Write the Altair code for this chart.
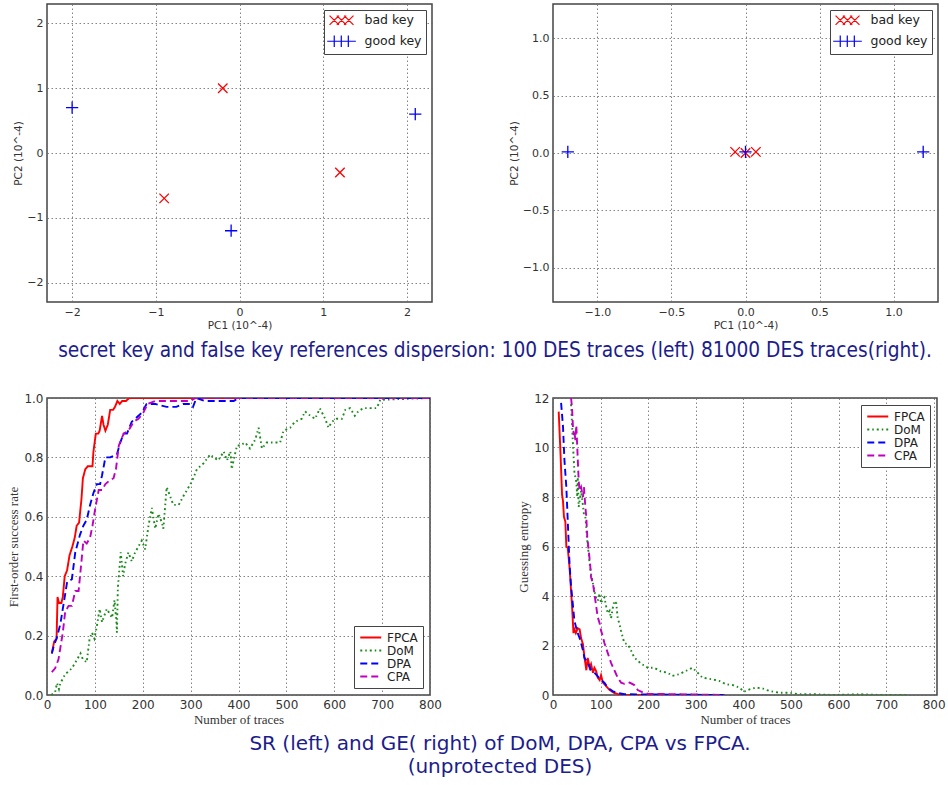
import altair as alt
import pandas as pd

# ---------------- data ----------------
key_labels = ["bad key", "good key"]
left_bad_pc1 = [-0.2, -0.9, 1.2]
left_bad_pc2 = [1.0, -0.7, -0.3]
left_good_pc1 = [-2.0, -0.1, 2.1]
left_good_pc2 = [0.7, -1.2, 0.6]
right_bad_pc1 = [-0.07, 0.0, 0.07]
right_bad_pc2 = [0.01, 0.0, 0.01]
right_good_pc1 = [-1.2, 0.0, 1.2]
right_good_pc2 = [0.01, 0.01, 0.01]

methods = ["FPCA", "DoM", "DPA", "CPA"]

sr_fpca_x = [10, 15, 20, 22, 25, 30, 33, 37, 42, 47, 53, 58, 62, 67, 72, 75, 80, 85, 95, 97,
             102, 107, 110, 115, 118, 122, 127, 132, 138, 142, 147, 152, 157, 165, 172, 800]
sr_fpca_y = [0.14, 0.18, 0.19, 0.33, 0.31, 0.31, 0.33, 0.40, 0.42, 0.47, 0.50, 0.53, 0.57, 0.58, 0.66,
             0.73, 0.76, 0.77, 0.77, 0.82, 0.88, 0.88, 0.89, 0.94, 0.91, 0.89, 0.91, 0.96, 0.96, 0.97,
             0.99, 0.98, 0.99, 0.99, 1.0, 1.0]
sr_dpa_x = [10, 15, 20, 28, 35, 42, 52, 59, 69, 76, 83, 90, 97, 104, 111, 115, 122, 132, 146, 153,
            160, 167, 177, 184, 198, 208, 226, 250, 270, 285, 300, 305, 312, 330, 360, 390, 400, 800]
sr_dpa_y = [0.14, 0.17, 0.19, 0.24, 0.31, 0.38, 0.39, 0.48, 0.54, 0.57, 0.59, 0.64, 0.68, 0.71, 0.71,
            0.74, 0.80, 0.80, 0.81, 0.85, 0.88, 0.88, 0.92, 0.93, 0.95, 0.98, 0.98, 0.97, 0.97, 0.98,
            0.98, 0.97, 1.0, 0.99, 0.99, 0.99, 1.0, 1.0]
sr_cpa_x = [10, 17, 24, 28, 33, 38, 45, 52, 59, 66, 72, 76, 83, 90, 95, 101, 108, 115, 122, 129,
            139, 144, 150, 160, 170, 181, 191, 201, 210, 226, 300, 310, 800]
sr_cpa_y = [0.077, 0.09, 0.12, 0.16, 0.21, 0.28, 0.30, 0.30, 0.35, 0.35, 0.45, 0.52, 0.51, 0.53, 0.57,
            0.63, 0.69, 0.69, 0.71, 0.72, 0.73, 0.76, 0.84, 0.88, 0.89, 0.92, 0.93, 0.95, 0.98, 0.99,
            0.99, 1.0, 1.0]
sr_dom_x = [9, 17, 21, 25, 28, 38, 45, 52, 63, 70, 75, 83, 89, 94, 99, 104, 110, 115, 118, 125,
            132, 136, 141, 145, 146, 148, 154, 159, 163, 170, 177, 184, 191, 198, 205, 212, 219, 226,
            233, 240, 243, 250, 257, 264, 275, 285, 296, 303, 313, 327, 341, 348, 358, 369, 376, 383,
            386, 391, 397, 403, 414, 424, 435, 442, 449, 459, 473, 487, 494, 508, 518, 532, 539, 550,
            560, 570, 581, 588, 595, 605, 616, 623, 633, 643, 650, 661, 675, 689, 696, 800]
sr_dom_y = [0.0, 0.01, 0.04, 0.02, 0.04, 0.07, 0.08, 0.09, 0.12, 0.14, 0.12, 0.11, 0.19, 0.21, 0.19,
            0.23, 0.29, 0.245, 0.26, 0.29, 0.27, 0.26, 0.32, 0.245, 0.21, 0.36, 0.48, 0.40, 0.44, 0.48,
            0.45, 0.48, 0.50, 0.52, 0.49, 0.57, 0.63, 0.56, 0.61, 0.58, 0.56, 0.70, 0.67, 0.64, 0.64,
            0.67, 0.70, 0.72, 0.76, 0.78, 0.81, 0.80, 0.79, 0.82, 0.79, 0.82, 0.76, 0.80, 0.84, 0.84,
            0.85, 0.83, 0.86, 0.90, 0.83, 0.85, 0.85, 0.85, 0.89, 0.90, 0.92, 0.93, 0.955, 0.94, 0.93,
            0.965, 0.93, 0.90, 0.92, 0.93, 0.93, 0.96, 0.966, 0.94, 0.955, 0.966, 0.966, 0.966, 0.994, 1.0]

ge_fpca_x = [12, 16, 19, 21, 23, 26, 28, 31, 35, 38, 40, 43, 45, 48, 52, 56, 59, 63, 66, 70,
             73, 77, 80, 84, 87, 91, 94, 98, 101, 105, 112, 119, 129, 140, 157, 360]
ge_fpca_y = [11.45, 9.65, 8.1, 7.84, 7.2, 7.0, 6.0, 5.95, 5.1, 4.2, 3.6, 2.5, 2.65, 2.5, 2.7,
             2.65, 2.3, 2.05, 1.55, 1.0, 1.5, 1.1, 1.25, 0.9, 1.1, 0.95, 0.7, 0.6, 0.8, 0.5,
             0.35, 0.2, 0.08, 0.02, 0.0, 0.0]
ge_dpa_x = [17, 21, 24, 28, 30, 33, 35, 38, 42, 45, 49, 52, 56, 59, 63, 66, 73, 80, 87, 94,
            101, 108, 115, 126, 136, 150, 360]
ge_dpa_y = [11.8, 10.85, 9.5, 8.4, 7.5, 6.1, 5.2, 4.4, 3.6, 3.0, 2.7, 2.5, 2.3, 2.1, 1.8,
            1.5, 1.3, 1.0, 0.9, 0.75, 0.6, 0.5, 0.3, 0.15, 0.08, 0.03, 0.0]
ge_cpa_x = [38, 40, 42, 44, 45, 47, 49, 51, 54, 56, 59, 63, 65, 68, 70, 72, 75, 78, 80, 84,
            87, 91, 94, 98, 101, 105, 108, 115, 122, 129, 136, 143, 150, 161, 171, 178, 189, 199, 360]
ge_cpa_y = [12.0, 11.6, 10.8, 10.5, 10.65, 10.3, 10.9, 10.0, 8.65, 8.25, 8.4, 8.0, 8.4, 7.6, 7.2,
            6.4, 5.85, 5.3, 4.75, 4.5, 4.1, 3.55, 3.15, 2.9, 2.6, 2.35, 2.1, 1.7, 1.3, 1.0,
            0.7, 0.5, 0.45, 0.5, 0.4, 0.2, 0.1, 0.05, 0.0]
ge_dom_x = [38, 40, 42, 45, 49, 51, 52, 54, 56, 59, 63, 65, 68, 70, 72, 75, 77, 80, 84, 87,
            91, 94, 98, 101, 105, 108, 112, 115, 119, 122, 126, 129, 133, 136, 140, 143, 147, 150,
            157, 164, 171, 178, 185, 192, 199, 213, 227, 241, 251, 265, 279, 293, 304, 314, 335,
            349, 364, 378, 392, 401, 413, 427, 441, 455, 476, 497, 518, 553, 588, 644, 693, 746]
ge_dom_y = [11.75, 10.95, 10.1, 9.0, 8.6, 8.0, 8.8, 7.6, 7.85, 8.25, 7.65, 7.3, 7.2, 6.75, 6.25,
            5.7, 5.3, 4.9, 4.5, 4.2, 3.9, 3.8, 4.1, 3.7, 3.9, 3.95, 3.55, 3.3, 3.4, 3.1, 3.55, 3.8,
            3.7, 3.1, 2.85, 2.6, 2.3, 2.1, 2.05, 1.8, 1.5, 1.4, 1.25, 1.2, 1.1, 1.1, 0.95, 0.9, 0.77,
            0.84, 0.97, 1.1, 0.9, 0.7, 0.63, 0.57, 0.43, 0.4, 0.3, 0.13, 0.23, 0.3, 0.26, 0.16, 0.09,
            0.09, 0.03, 0.03, 0.0, 0.03, 0.0, 0.0]

caption_top = ["secret key and false key references dispersion: 100 DES traces (left)  81000 DES traces(right)."]
caption_bottom = ["SR (left) and GE( right) of DoM, DPA, CPA vs FPCA.", "(unprotected DES)"]

# ---------------- styles ----------------
RED, BLUE, GREEN, MAG = "#ff0000", "#0000ff", "#1a8a1a", "#c000c0"
NAVY = "#1c1c8c"
X_PATH = "M-1,-1L1,1M-1,1L1,-1"
PLUS_PATH = "M-1,0L1,0M0,-1L0,1"
LEG_X = "M-1,-1L1,1M-1,1L1,-1M0.55,-1L2.55,1M0.55,1L2.55,-1M2.1,-1L4.1,1M2.1,1L4.1,-1"
LEG_PLUS = "M-1.5,0L4.6,0M0,-1.25L0,1.25M1.5,-1.25L1.5,1.25M3,-1.25L3,1.25"
LEG_LINE = "M-1,0L3,0"
SANS = "DejaVu Sans"
SERIF = "Liberation Serif"


def scat_df(bx, by, gx, gy):
    return pd.DataFrame({
        "pc1": bx + gx,
        "pc2": by + gy,
        "key": [key_labels[0]] * len(bx) + [key_labels[1]] * len(gx),
    })


def axis(title, values, fmt, serif=False, size=11):
    return alt.Axis(
        title=title, values=values, format=fmt, grid=True, gridDash=[1.5, 2.5],
        gridColor="#666", gridWidth=0.8, ticks=False, domain=False,
        labelFont=SANS, labelFontSize=size, labelColor="#333", labelPadding=4,
        labelFlush=False, labelOverlap=False, labelBound=False,
        titleFont=SERIF if serif else SANS, titleFontSize=13 if serif else 10.5,
        titleFontWeight="normal", titleColor="#333", titlePadding=3,
    )


def scatter(df, lim, ticks, fmt, w, h, extra=None):
    x = alt.X("pc1:Q", scale=alt.Scale(domain=[-lim, lim], nice=False, zero=False),
              axis=axis("PC1 (10^-4)", ticks, fmt))
    y = alt.Y("pc2:Q", scale=alt.Scale(domain=[-lim, lim], nice=False, zero=False),
              axis=axis("PC2 (10^-4)", ticks, fmt))
    base = alt.Chart(df)
    bad = base.transform_filter(alt.datum.key == key_labels[0]).mark_point(
        shape=X_PATH, size=90, strokeWidth=1.3, color=RED, filled=False, opacity=1
    ).encode(x=x, y=y)
    good = base.transform_filter(alt.datum.key == key_labels[1]).mark_point(
        shape=PLUS_PATH, size=150, strokeWidth=1.3, color=BLUE, filled=False, opacity=1
    ).encode(x=x, y=y)
    leg = alt.Legend(
        title=None, orient="top-right", offset=6, padding=4, fillColor="white",
        strokeColor="#444", cornerRadius=0, labelFont=SANS,
        labelFontSize=12.5, labelColor="#222", labelOffset=24, symbolSize=88,
        symbolStrokeWidth=1.2, symbolOpacity=1, rowPadding=4,
    )
    legend_layer = base.mark_point(filled=False, opacity=0).encode(
        x=x, y=y,
        color=alt.Color("key:N", scale=alt.Scale(domain=key_labels, range=[RED, BLUE]), legend=leg),
        shape=alt.Shape("key:N", scale=alt.Scale(domain=key_labels, range=[LEG_X, LEG_PLUS]), legend=leg),
    )
    layers = [bad, good, legend_layer] + (extra or [])
    return alt.layer(*layers).properties(width=w, height=h)


def line_df(series):
    rows = []
    for name, xs, ys in series:
        for i, (a, b) in enumerate(zip(xs, ys)):
            rows.append({"method": name, "n": a, "v": b, "i": i})
    return pd.DataFrame(rows)


def lines(df, xmax, ymax, yticks, yfmt, ytitle, orient, w, h, extra=None):
    leg = alt.Legend(
        title=None, orient=orient, offset=7, padding=5, fillColor="white",
        strokeColor="#444", cornerRadius=0, labelFont=SANS,
        labelFontSize=12, labelColor="#222", labelOffset=15, symbolType=LEG_LINE,
        symbolSize=110, symbolStrokeWidth=2.2, rowPadding=0,
    )
    ln = alt.Chart(df).mark_line(strokeWidth=1.9, clip=True).encode(
        x=alt.X("n:Q", scale=alt.Scale(domain=[0, xmax], nice=False, zero=False),
                axis=axis("Number of traces", list(range(0, 801, 100)), "d", serif=True, size=12)),
        y=alt.Y("v:Q", scale=alt.Scale(domain=[0, ymax], nice=False, zero=False),
                axis=axis(ytitle, yticks, yfmt, serif=True, size=12)),
        color=alt.Color("method:N", scale=alt.Scale(domain=methods, range=[RED, GREEN, BLUE, MAG]), legend=leg),
        strokeDash=alt.StrokeDash("method:N", scale=alt.Scale(
            domain=methods, range=[[1, 0], [2, 3, 1.5, 3], [7, 4], [7, 4]]), legend=leg),
        order="i:Q",
    )
    layers = [ln] + (extra or [])
    return alt.layer(*layers).properties(width=w, height=h)


# ---------------- captions (text layers) ----------------
cap1 = alt.Chart(pd.DataFrame({"t": caption_top})).mark_text(
    font="Liberation Sans Narrow, DejaVu Sans Condensed, sans-serif", fontSize=20.7,
    color=NAVY, align="center", baseline="middle"
).encode(text="t:N", x=alt.value(448), y=alt.value(347))

cap_df = pd.DataFrame({"t": caption_bottom, "k": [0, 1]})
cap2a = alt.Chart(cap_df).transform_filter(alt.datum.k == 0).mark_text(
    font=SANS, fontSize=20, color=NAVY, align="center", baseline="middle"
).encode(text="t:N", x=alt.value(453), y=alt.value(346))
cap2b = alt.Chart(cap_df).transform_filter(alt.datum.k == 1).mark_text(
    font=SANS, fontSize=20, color=NAVY, align="center", baseline="middle"
).encode(text="t:N", x=alt.value(453), y=alt.value(369))

# ---------------- panels ----------------
p1 = scatter(scat_df(left_bad_pc1, left_bad_pc2, left_good_pc1, left_good_pc2),
             2.3, [-2, -1, 0, 1, 2], "d", 385, 298, extra=[cap1])
p2 = scatter(scat_df(right_bad_pc1, right_bad_pc2, right_good_pc1, right_good_pc2),
             1.3, [-1.0, -0.5, 0.0, 0.5, 1.0], ".1f", 385, 298)

sr = line_df([("FPCA", sr_fpca_x, sr_fpca_y), ("DoM", sr_dom_x, sr_dom_y),
              ("DPA", sr_dpa_x, sr_dpa_y), ("CPA", sr_cpa_x, sr_cpa_y)])
ge = line_df([("FPCA", ge_fpca_x, ge_fpca_y), ("DoM", ge_dom_x, ge_dom_y),
              ("DPA", ge_dpa_x, ge_dpa_y), ("CPA", ge_cpa_x, ge_cpa_y)])

p3 = lines(sr, 800, 1.0, [0, 0.2, 0.4, 0.6, 0.8, 1.0], ".1f", "First-order success rate",
           "bottom-right", 383, 297, extra=[cap2a, cap2b])
p4 = lines(ge, 807, 12, [0, 2, 4, 6, 8, 10, 12], "d", "Guessing entropy",
           "top-right", 384, 297)

chart = alt.concat(
    p1, p2, p3, p4, columns=2, bounds="flush",
    spacing=alt.RowColnumber(row=96, column=121),
).resolve_scale(
    color="independent", shape="independent", strokeDash="independent",
    x="independent", y="independent",
).properties(
    padding={"left": 7, "top": 3, "right": 0, "bottom": 0},
    background="white",
).configure_view(stroke="#444", strokeWidth=1.5)

chart.save("out.html", embed_options={"renderer": "svg", "actions": False})
